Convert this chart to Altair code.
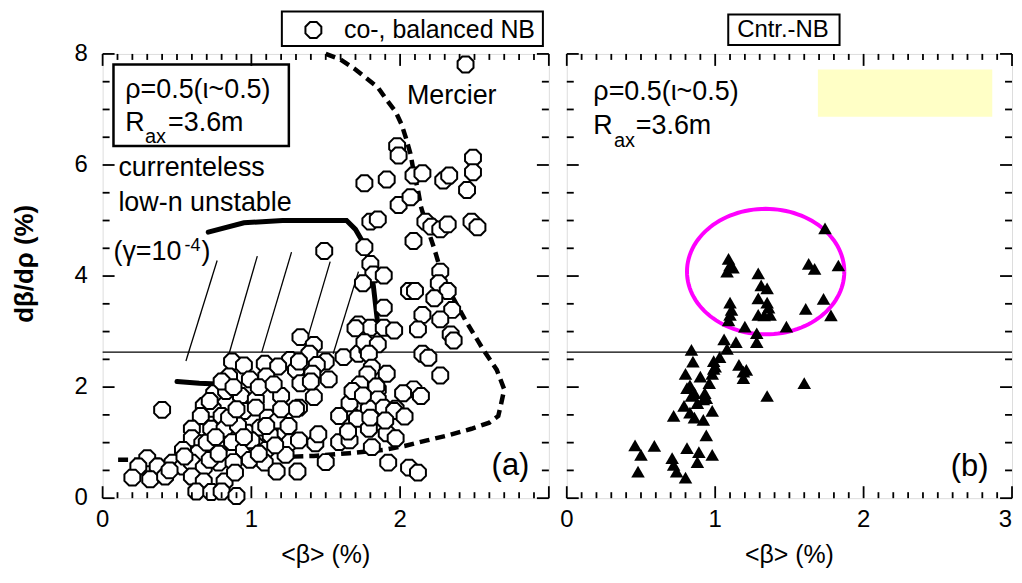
import altair as alt
import numpy as np
import pandas as pd

FONT = "Liberation Sans"
BG = "#FFFFC0"

# ---------------- data ----------------
# (a) co-, balanced NB : <beta> (%) and d beta / d rho (%)
co_beta = [2.44, 1.98, 1.99, 2.49, 2.49, 2.45, 1.76, 1.91, 2.09, 2.15, 2.29, 2.33, 1.99, 2.07,
           1.80, 1.85, 2.17, 2.21, 2.27, 2.32, 2.48, 2.52, 2.09, 1.49, 1.76, 1.80, 1.82, 1.89,
           1.75, 2.06, 2.10, 2.27, 2.26, 2.32, 2.23, 2.35, 1.89, 2.15, 2.27, 2.12, 2.34, 1.72,
           1.80, 1.89, 1.96, 1.70, 1.33, 1.42, 1.39, 1.26, 1.50, 1.62, 1.72, 1.78, 1.76, 1.85,
           1.79, 1.81, 2.15, 2.19, 2.36, 0.87, 0.95, 1.09, 1.18, 1.30, 1.44, 1.91, 2.27, 1.41,
           1.33, 1.52, 0.85, 0.99, 1.10, 1.78, 1.85, 1.70, 1.73, 1.84, 2.09, 2.14, 2.02, 0.75,
           0.83, 0.93, 1.03, 1.42, 1.85, 1.76, 1.66, 1.79, 1.89, 1.97, 1.32, 0.68, 0.74, 0.80,
           0.66, 0.95, 1.03, 1.11, 1.30, 1.59, 1.71, 1.86, 1.96, 2.03, 0.40, 1.79, 1.91, 1.97,
           0.60, 0.73, 0.82, 0.97, 1.06, 1.13, 1.23, 1.26, 0.60, 0.67, 0.78, 0.87, 0.95, 1.03,
           1.10, 0.64, 1.32, 1.43, 1.59, 1.66, 1.81, 0.91, 1.18, 0.30, 0.24, 0.37, 0.47, 0.54,
           0.60, 0.68, 0.78, 0.88, 0.99, 1.09, 1.17, 1.31, 0.20, 0.32, 0.42, 0.60, 0.68, 0.82,
           0.89, 0.63, 0.73, 0.80, 0.90, 1.50, 1.92, 2.06, 2.12, 1.32, 1.68, 0.54, 1.00, 1.23,
           0.72, 1.20, 0.70, 0.76, 0.85, 0.90, 0.72, 0.80, 0.88, 1.05, 1.15, 1.20, 1.10, 1.16,
           1.25, 1.40, 1.45, 1.75, 1.80, 1.65, 1.90, 0.95, 1.05, 0.55, 0.45, 0.78]
co_dbdr = [7.81, 6.34, 6.17, 6.13, 5.87, 5.55, 5.67, 5.74, 5.81, 5.85, 5.72, 5.81, 5.28, 5.42,
           4.98, 5.02, 4.98, 4.89, 4.84, 4.93, 4.98, 4.88, 4.63, 4.45, 4.52, 4.22, 4.03, 4.01,
           3.87, 3.73, 3.73, 4.08, 3.87, 3.73, 3.60, 3.39, 3.43, 3.30, 3.22, 3.04, 2.95, 3.13,
           3.07, 3.07, 3.02, 3.06, 2.90, 2.76, 2.60, 2.49, 2.46, 2.54, 2.60, 2.69, 2.81, 2.77,
           2.60, 2.35, 2.60, 2.53, 2.84, 2.46, 2.39, 2.42, 2.37, 2.31, 2.40, 2.24, 2.21, 2.24,
           2.07, 2.14, 2.19, 2.14, 2.19, 2.23, 1.96, 1.93, 2.05, 2.01, 1.96, 1.84, 1.89, 1.89,
           1.93, 1.84, 1.78, 1.82, 1.78, 1.66, 1.71, 1.61, 1.63, 1.61, 1.63, 1.66, 1.61, 1.48,
           1.48, 1.57, 1.63, 1.45, 1.61, 1.48, 1.43, 1.36, 1.57, 1.47, 1.59, 1.25, 1.17, 1.08,
           1.25, 1.25, 1.25, 1.18, 1.27, 1.13, 1.18, 1.01, 1.08, 0.99, 0.90, 1.01, 0.87, 0.95,
           0.87, 0.81, 1.04, 0.99, 1.01, 1.04, 0.92, 1.31, 1.40, 0.72, 0.57, 0.57, 0.64, 0.57,
           0.64, 0.55, 0.64, 0.65, 0.69, 0.64, 0.48, 0.48, 0.37, 0.34, 0.39, 0.39, 0.30, 0.30,
           0.46, 0.12, 0.11, 0.12, 0.04, 0.65, 0.64, 0.55, 0.46, 2.46, 1.93, 0.87, 1.04, 0.78,
           0.69, 1.84, 1.00, 1.10, 1.45, 1.60, 1.75, 2.10, 2.00, 2.00, 2.05, 1.60, 1.30, 0.95,
           1.30, 2.10, 1.15, 1.85, 1.45, 1.20, 1.40, 1.10, 0.80, 0.75, 0.50, 0.80]

# (b) Cntr.-NB
cntr_beta = [1.74, 1.09, 1.10, 1.12, 1.08, 1.63, 1.67, 1.83, 1.29, 1.31, 1.35, 1.29, 1.35, 1.36,
             1.29, 1.33, 1.37, 1.73, 1.61, 1.78, 1.10, 1.11, 1.10, 1.09, 1.20, 1.48, 1.28, 1.28,
             1.06, 1.14, 1.08, 0.84, 1.03, 0.99, 0.85, 1.16, 1.21, 1.19, 1.00, 0.98, 0.80, 0.90,
             0.96, 0.81, 0.83, 0.86, 0.93, 0.92, 0.88, 0.79, 0.98, 0.83, 0.86, 0.92, 0.72, 0.94,
             0.99, 1.60, 1.35, 0.94, 0.46, 0.50, 0.59, 0.48, 0.81, 0.89, 0.98, 0.88, 0.71, 0.72,
             0.74, 0.80, 1.19, 0.84]
cntr_dbdr = [4.86, 4.31, 4.19, 4.15, 4.08, 4.22, 4.13, 4.19, 4.05, 3.83, 3.78, 3.60, 3.52, 3.43,
             3.30, 3.29, 3.30, 3.59, 3.41, 3.29, 3.52, 3.39, 3.30, 3.20, 3.09, 3.09, 2.97, 2.81,
             2.86, 2.81, 2.69, 2.67, 2.54, 2.47, 2.46, 2.40, 2.31, 2.16, 2.37, 2.24, 2.24, 2.19,
             2.07, 1.98, 2.03, 1.89, 1.89, 1.78, 1.71, 1.66, 1.57, 1.54, 1.45, 1.41, 1.48, 1.80,
             2.33, 2.07, 1.84, 1.13, 0.95, 0.78, 0.94, 0.48, 0.90, 0.83, 0.78, 0.65, 0.72, 0.60,
             0.48, 0.37, 2.28, 1.84]

# Mercier boundary (dashed)
mercier_beta = [1.50, 1.60, 1.70, 1.85, 1.91, 1.97, 2.01, 2.04, 2.07, 2.09, 2.12, 2.14, 2.18,
                2.23, 2.27, 2.34, 2.44, 2.56, 2.65, 2.70, 2.68, 2.66, 2.60, 2.48, 2.32, 2.18,
                2.03, 1.89, 1.66, 1.42, 1.19, 0.83, 0.42, 0.07]
mercier_dbdr = [8.00, 7.90, 7.72, 7.40, 7.17, 6.96, 6.73, 6.48, 6.20, 5.90, 5.55, 5.25, 4.89,
                4.49, 4.13, 3.69, 3.20, 2.67, 2.31, 1.96, 1.71, 1.48, 1.36, 1.25, 1.13, 1.04,
                0.94, 0.87, 0.81, 0.76, 0.74, 0.71, 0.69, 0.69]

# currentless low-n unstable boundary (solid, two visible pieces)
lown_beta = [0.71, 0.95, 1.21, 1.64, 1.70, 1.75, 1.79, 1.82, 1.85, 0.50, 0.65, 0.81]
lown_dbdr = [4.79, 4.96, 5.00, 5.00, 4.84, 4.61, 4.28, 3.83, 3.13, 2.10, 2.07, 2.05]
lown_part = [1, 1, 1, 1, 1, 1, 1, 1, 1, 2, 2, 2]

# hatch lines of the unstable region
hatch_beta1 = [0.77, 1.04, 1.27, 1.53, 1.72]
hatch_dbdr1 = [4.28, 4.36, 4.43, 4.26, 4.08]
hatch_beta2 = [0.56, 0.85, 1.07, 1.36, 1.55]
hatch_dbdr2 = [2.47, 2.60, 2.63, 2.72, 2.60]

limit_dbdr = [2.63]

# magenta ellipse (centre, half-axes)
ell_center = [1.34, 4.08]
ell_radius = [0.53, 1.13]

# axis tick values and labels
x_major = [0, 1, 2, 3]
x_minor = [i / 10 for i in range(31) if i % 10]
y_major = [0, 2, 4, 6, 8]
y_minor = [i / 2 for i in range(17) if i % 4]
x_labels_a = ["0", "1", "2"]
x_labels_b = ["0", "1", "2", "3"]
y_labels = ["0", "2", "4", "6", "8"]
x_title = "<β> (%)"
y_title = "dβ/dρ (%)"

# ---------------- helpers ----------------
XS = alt.Scale(domain=[0, 3], nice=False, zero=False)
YS = alt.Scale(domain=[0, 8], nice=False, zero=False)
OCT = "M-0.414,-1L0.414,-1L1,-0.414L1,0.414L0.414,1L-0.414,1L-1,0.414L-1,-0.414Z"
H = 446


def X(f):
    return alt.X(f"{f}:Q", scale=XS, axis=None)


def Y(f):
    return alt.Y(f"{f}:Q", scale=YS, axis=None)


def xy(ch, xf="x", yf="y"):
    return ch.encode(x=X(xf), y=Y(yf))


def txt(x, y, s, size=27, align="left", weight="normal", dx=0, dy=0, angle=0):
    df = pd.DataFrame({"x": [x], "y": [y], "t": [s]})
    return xy(alt.Chart(df).mark_text(font=FONT, fontSize=size, align=align, baseline="middle",
                                      color="black", fontWeight=weight, dx=dx, dy=dy,
                                      angle=angle)).encode(text="t:N")


def box(x1, x2, y1, y2, fill="white", sw=2, stroke="black"):
    df = pd.DataFrame({"x": [x1], "x2": [x2], "y": [y1], "y2": [y2]})
    return alt.Chart(df).mark_rect(fill=fill, stroke=stroke, strokeWidth=sw).encode(
        x=X("x"), x2="x2:Q", y=Y("y"), y2="y2:Q")


def frame_layers(W, xlabels, with_y):
    out = []
    ux = 3.0 / W
    uy = 8.0 / H
    for vals, sz in ((x_major, 12), (x_minor, 6)):
        for y0, y1 in ((0.0, sz * uy), (8.0, 8.0 - sz * uy)):
            d = pd.DataFrame({"v": vals, "a": [y0] * len(vals), "b": [y1] * len(vals)})
            out.append(alt.Chart(d).mark_rule(color="black", strokeWidth=1.8).encode(
                x=X("v"), y=Y("a"), y2="b:Q"))
    for vals, sz in ((y_major, 12), (y_minor, 7)):
        for x0, x1 in ((0.0, sz * ux), (3.0, 3.0 - sz * ux)):
            d = pd.DataFrame({"v": vals, "a": [x0] * len(vals), "b": [x1] * len(vals)})
            out.append(alt.Chart(d).mark_rule(color="black", strokeWidth=1.8).encode(
                y=Y("v"), x=X("a"), x2="b:Q"))
    # tick labels along the bottom
    n = len(xlabels)
    lab = pd.DataFrame({"x": x_major[:n], "y": [0.0] * n, "t": xlabels})
    inner = lab[lab["x"] < 3]
    out.append(xy(alt.Chart(inner).mark_text(font=FONT, fontSize=24, align="center",
                                             baseline="middle", dy=22, color="black")).encode(text="t:N"))
    last = lab[lab["x"] >= 3]
    if len(last):
        out.append(xy(alt.Chart(last).mark_text(font=FONT, fontSize=24, align="right",
                                                baseline="middle", dy=22, color="black")).encode(text="t:N"))
    out.append(txt(1.5, 0.0, x_title, size=25, align="center", dy=57))
    if with_y:
        ylab = pd.DataFrame({"x": [0.0] * len(y_major), "y": y_major, "t": y_labels})
        out.append(xy(alt.Chart(ylab).mark_text(font=FONT, fontSize=24, align="right",
                                                baseline="middle", dx=-15, color="black")).encode(text="t:N"))
        # rotated title: dy moves it horizontally (leftwards when negative)
        out.append(txt(0.0, 4.22, y_title, size=26, align="center", weight="bold", dy=-78, angle=270))
    return out


# ---------------- left panel (a) ----------------
co_df = pd.DataFrame({"x": co_beta, "y": co_dbdr})
mer_df = pd.DataFrame({"x": mercier_beta, "y": mercier_dbdr, "i": range(len(mercier_beta))})
lown_df = pd.DataFrame({"x": lown_beta, "y": lown_dbdr, "p": lown_part, "i": range(len(lown_beta))})
hatch_df = pd.DataFrame({"x": hatch_beta1, "y": hatch_dbdr1, "x2": hatch_beta2, "y2": hatch_dbdr2})
lim_df = pd.DataFrame({"y": limit_dbdr})

hline = alt.Chart(lim_df).mark_rule(color="black", strokeWidth=1.3).encode(y=Y("y"))
hatch = alt.Chart(hatch_df).mark_rule(color="black", strokeWidth=1.3).encode(
    x=X("x"), y=Y("y"), x2="x2:Q", y2="y2:Q")
lown = xy(alt.Chart(lown_df).mark_line(color="black", strokeWidth=5, strokeCap="round")).encode(
    detail="p:N", order="i:Q")
mer = xy(alt.Chart(mer_df).mark_line(color="black", strokeWidth=4.5, strokeDash=[10, 6])).encode(order="i:Q")
pts = xy(alt.Chart(co_df).mark_point(shape=OCT, filled=True, fill="white", stroke="black",
                                     strokeWidth=2, size=255, opacity=1))
leg_sym = xy(alt.Chart(pd.DataFrame({"x": [1.417], "y": [8.43]})).mark_point(
    shape=OCT, filled=True, fill="white", stroke="black", strokeWidth=2, size=255, opacity=1))

WL = 448
left_layers = [
    hline, hatch, lown, mer,
    box(0.073, 1.252, 6.34, 7.81, fill="transparent", sw=2.5),
    txt(0.152, 7.35, "ρ=0.5(ι~0.5)"),
    txt(0.152, 6.75, "R"), txt(0.285, 6.50, "ax", size=20), txt(0.44, 6.75, "=3.6m"),
    txt(2.046, 7.24, "Mercier"),
    txt(0.106, 5.94, "currenteless"),
    txt(0.106, 5.32, "low-n unstable"),
    txt(0.073, 4.43, "(γ=10"), txt(0.55, 4.54, "-4", size=18), txt(0.665, 4.43, ")"),
    pts,
    txt(2.742, 0.58, "(a)", size=31, align="center"),
    box(1.205, 2.960, 8.145, 8.763, fill="white", sw=2),
    leg_sym,
    txt(1.623, 8.43, "co-, balanced NB", size=25),
] + frame_layers(WL, x_labels_a, True)

left = alt.layer(*left_layers).properties(width=WL, height=H)

# ---------------- right panel (b) ----------------
cn_df = pd.DataFrame({"x": cntr_beta, "y": cntr_dbdr})
t = np.linspace(0, 2 * np.pi, 121)
ell_df = pd.DataFrame({"x": ell_center[0] + ell_radius[0] * np.cos(t),
                       "y": ell_center[1] + ell_radius[1] * np.sin(t),
                       "i": range(len(t))})
ell = xy(alt.Chart(ell_df).mark_line(color="#FF00FF", strokeWidth=4)).encode(order="i:Q")
tri = xy(alt.Chart(cn_df).mark_point(shape="triangle-up", filled=True, color="black", size=185, opacity=1))

WR = 447
right_layers = [
    box(1.692, 2.867, 6.87, 7.72, fill="#FFFFC6", sw=0, stroke="#FFFFC6"),
    hline, ell, tri,
    txt(0.179, 7.31, "ρ=0.5(ι~0.5)"),
    txt(0.179, 6.70, "R"), txt(0.318, 6.43, "ax", size=20), txt(0.465, 6.70, "=3.6m"),
    txt(2.714, 0.565, "(b)", size=31, align="center"),
    box(1.088, 1.838, 8.16, 8.71, fill="white", sw=2),
    txt(1.148, 8.43, "Cntr.-NB", size=24),
] + frame_layers(WR, x_labels_b, False)

right = alt.layer(*right_layers).properties(width=WR, height=H)

chart = alt.hconcat(left, right, spacing=8).properties(
    padding={"left": 3, "right": 0, "top": 0, "bottom": 0}
).configure_view(fill=BG, stroke="black", strokeWidth=2).configure(background="white")

chart.save("out.html", embed_options={"renderer": "svg", "actions": False})
